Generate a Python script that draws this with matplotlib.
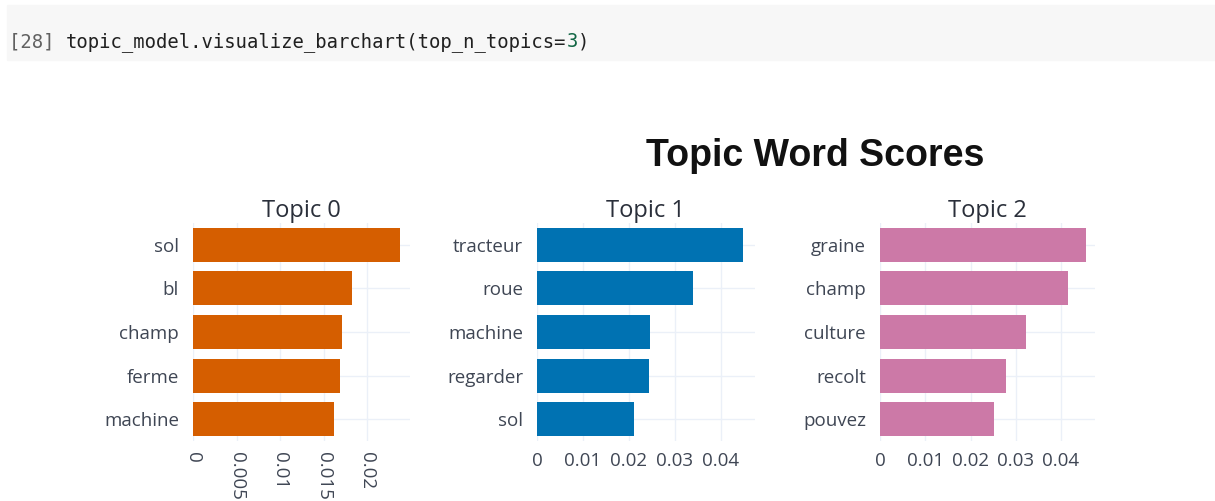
import matplotlib.pyplot as plt

# donnees
titres = ["Topic 0", "Topic 1", "Topic 2"]
mots_0 = ["sol", "bl", "champ", "ferme", "machine"]
scores_0 = [0.0237, 0.0183, 0.0171, 0.0169, 0.0162]
mots_1 = ["tracteur", "roue", "machine", "regarder", "sol"]
scores_1 = [0.0448, 0.0339, 0.0246, 0.0243, 0.0211]
mots_2 = ["graine", "champ", "culture", "recolt", "pouvez"]
scores_2 = [0.0455, 0.0415, 0.0322, 0.0278, 0.0252]
couleurs = ["#D55E00", "#0072B2", "#CC79A7"]
ticks_0 = [0, 0.005, 0.01, 0.015, 0.02]
ticks_12 = [0, 0.01, 0.02, 0.03, 0.04]

W, H = 1215, 501
fig = plt.figure(figsize=(W / 100, H / 100), dpi=100)

# bandeau de la cellule
fig.patches.append(plt.Rectangle((7 / W, 1 - 60 / H), 1 - 7 / W, 55 / H,
                                 transform=fig.transFigure, color="#f7f7f7", zorder=0))
taille_code = 13.6
t = fig.text(9 / W, 1 - 47 / H, "[28] ", family="DejaVu Sans Mono", fontsize=taille_code,
             color="#616161", va="baseline")
fig.canvas.draw()
bb = t.get_window_extent()
t2 = fig.text(bb.x1 / W, 1 - 47 / H, "topic_model.visualize_barchart(top_n_topics=",
              family="DejaVu Sans Mono", fontsize=taille_code, color="#212121", va="baseline")
fig.canvas.draw()
bb = t2.get_window_extent()
t3 = fig.text(bb.x1 / W, 1 - 47 / H, "3", family="DejaVu Sans Mono", fontsize=taille_code,
              color="#116644", va="baseline")
fig.canvas.draw()
bb = t3.get_window_extent()
fig.text(bb.x1 / W, 1 - 47 / H, ")", family="DejaVu Sans Mono", fontsize=taille_code,
         color="#212121", va="baseline")

fig.text(815 / W, 1 - 156 / H, "Topic Word Scores", family="Liberation Sans",
         fontweight="bold", fontsize=27, ha="center", va="center", color="#111111")

gauches = [193, 537, 880]
droites = [410, 755, 1095]
haut, bas = 223, 441
donnees = [(mots_0, scores_0), (mots_1, scores_1), (mots_2, scores_2)]
texte = "#3f4654"

for i in range(3):
    mots, scores = donnees[i]
    ax = fig.add_axes([gauches[i] / W, 1 - bas / H, (droites[i] - gauches[i]) / W,
                       (bas - haut) / H])
    pos = list(range(len(mots)))
    ax.barh(pos, scores, height=0.78, color=couleurs[i], zorder=2)
    ax.set_ylim(4.5, -0.5)
    if i == 0:
        ax.set_xlim(0, 0.0249)
        ax.set_xticks(ticks_0)
        ax.set_xticklabels(["0", "0.005", "0.01", "0.015", "0.02"], rotation=270)
    else:
        ax.set_xlim(0, 0.0474 if i == 1 else 0.0475)
        ax.set_xticks(ticks_12)
        ax.set_xticklabels(["0", "0.01", "0.02", "0.03", "0.04"])
    ax.set_yticks(pos)
    ax.set_yticklabels(mots)
    for s in ax.spines.values():
        s.set_visible(False)
    ax.tick_params(length=0, labelsize=13.5, labelcolor=texte, pad=8)
    ax.tick_params(axis="y", pad=10)
    for lab in ax.get_xticklabels() + ax.get_yticklabels():
        lab.set_family("Open Sans")
    ax.grid(True, color="#ebf0f8", linewidth=1, zorder=0)
    ax.set_axisbelow(True)
    ax.set_title(titres[i], family="Open Sans", fontsize=17, color="#2a2f3a", pad=3)

fig.savefig("out.png", dpi=100)
